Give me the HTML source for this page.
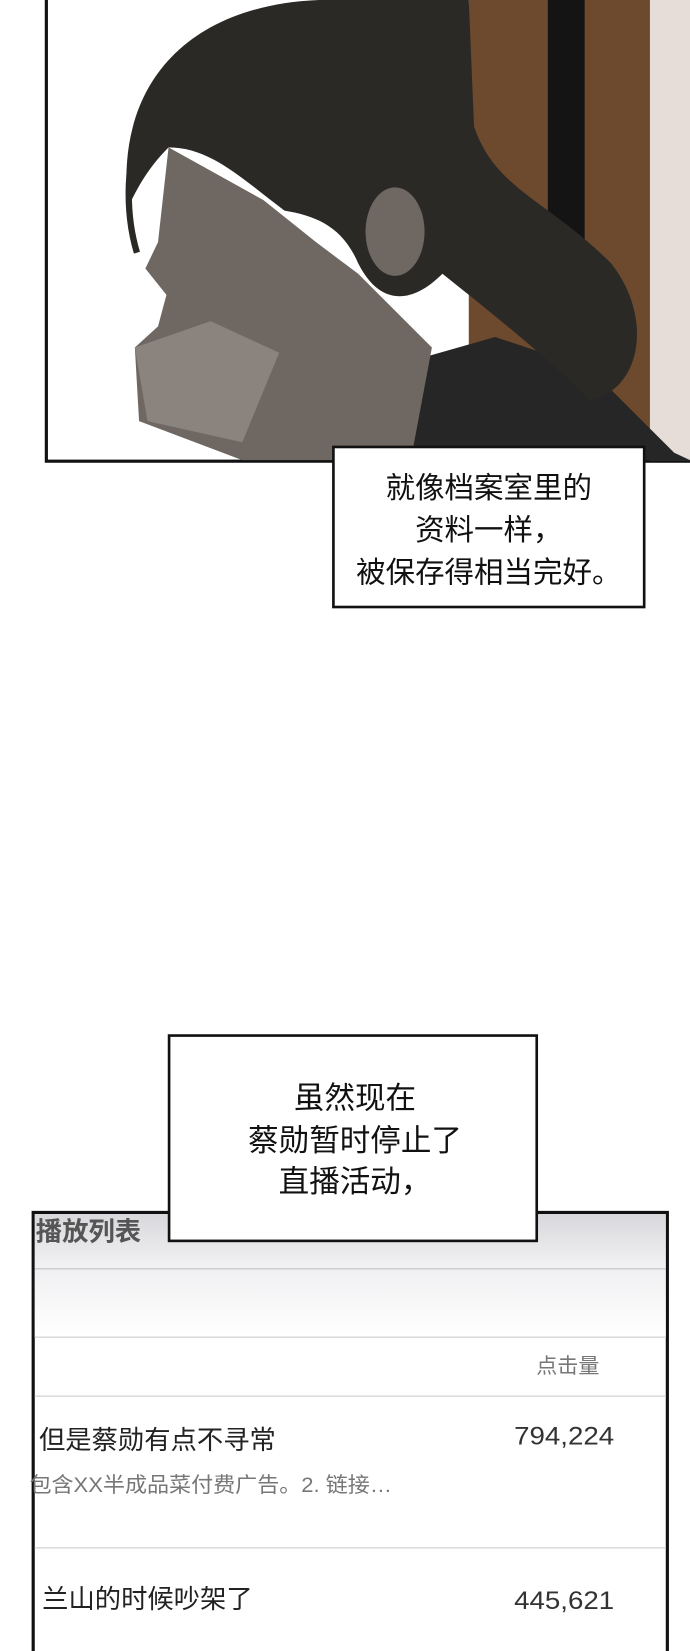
<!DOCTYPE html>
<html><head><meta charset="utf-8"><style>
html,body{margin:0;padding:0;background:#fff;}
svg{display:block;}
text{font-family:"Liberation Sans","Noto Sans CJK SC",sans-serif;}
</style></head><body>
<svg width="690" height="1651" viewBox="0 0 655 1568" preserveAspectRatio="none" xmlns="http://www.w3.org/2000/svg">
<defs>
<linearGradient id="hd" x1="0" y1="0" x2="0" y2="1"><stop offset="0" stop-color="#d8d8dc"/><stop offset="1" stop-color="#f2f2f4"/></linearGradient>
<linearGradient id="r1" x1="0" y1="0" x2="0" y2="1"><stop offset="0" stop-color="#f0f0f2"/><stop offset="1" stop-color="#fff"/></linearGradient>
</defs>
<rect width="655" height="1568" fill="#fff"/>
<!-- top panel -->
<rect x="44" y="-5" width="620" height="443" fill="#fff" stroke="#111" stroke-width="3"/>
<rect x="445" y="0" width="172" height="437" fill="#6d4a2e"/>
<rect x="520" y="0" width="35" height="437" fill="#141414"/>
<rect x="617" y="0" width="38" height="437" fill="#e6dcd8"/>
<path d="M360 437 L400 340 L470 320 L560 350 L640 430 L655 437 Z" fill="#262626"/>
<path d="M160 140 L150 230 L138 255 L158 280 L150 310 L128 330 L132 400 L230 437 L390 437 L410 330 L340 260 L300 230 L250 190 Z" fill="#6f6862"/>
<path d="M128 330 L200 305 L265 335 L230 420 L140 400 Z" fill="#8a837e"/>
<path d="M120 170 C120 60 200 -5 330 0 L445 0 L450 120 C470 180 520 190 580 250 C620 300 610 370 560 380 C520 340 470 300 420 260 C390 290 360 290 340 250 C325 215 300 205 270 200 C230 170 200 140 160 140 C140 160 130 180 125 190 Z" fill="#2b2926"/>
<path d="M135 110 C120 150 118 200 130 240" stroke="#2b2926" stroke-width="6" fill="none"/>
<ellipse cx="375" cy="220" rx="28" ry="42" fill="#6f6862"/>
<!-- caption 1 -->
<rect x="316.5" y="424.5" width="295" height="152" fill="#fff" stroke="#111" stroke-width="2.5"/>
<g font-size="28" fill="#111" text-anchor="middle">
<text x="464" y="473">就像档案室里的</text>
<text x="464" y="513">资料一样，</text>
<text x="464" y="553">被保存得相当完好。</text>
</g>
<!-- bottom panel -->
<rect x="31.5" y="1151.5" width="602" height="430" fill="#fff" stroke="#111" stroke-width="3"/>
<rect x="33" y="1153" width="599" height="52" fill="url(#hd)"/>
<text x="34" y="1178" font-size="25" font-weight="bold" fill="#555">播放列表</text>
<line x1="33" y1="1205" x2="632" y2="1205" stroke="#ccc" stroke-width="1.5"/>
<rect x="33" y="1206" width="599" height="64" fill="url(#r1)"/>
<line x1="33" y1="1270" x2="632" y2="1270" stroke="#ddd" stroke-width="1.5"/>
<text x="539" y="1304" font-size="20" fill="#777" text-anchor="middle">点击量</text>
<line x1="33" y1="1326" x2="632" y2="1326" stroke="#ddd" stroke-width="1.5"/>
<text x="37" y="1376" font-size="25" fill="#222">但是蔡勋有点不寻常</text>
<text x="488" y="1372" font-size="24" fill="#333" textLength="95" lengthAdjust="spacingAndGlyphs">794,224</text>
<text x="28" y="1417" font-size="20" fill="#777" textLength="344" lengthAdjust="spacingAndGlyphs">包含XX半成品菜付费广告。2. 链接…</text>
<line x1="33" y1="1470" x2="632" y2="1470" stroke="#ddd" stroke-width="1.5"/>
<text x="40" y="1527" font-size="25" fill="#222">兰山的时候吵架了</text>
<text x="488" y="1528" font-size="24" fill="#333" textLength="95" lengthAdjust="spacingAndGlyphs">445,621</text>
<!-- caption 2 -->
<rect x="160.5" y="983.5" width="349" height="195" fill="#fff" stroke="#111" stroke-width="2.5"/>
<g font-size="29" fill="#111" text-anchor="middle">
<text x="337" y="1053">虽然现在</text>
<text x="337" y="1093">蔡勋暂时停止了</text>
<text x="337" y="1132">直播活动，</text>
</g>
</svg>
</body></html>
